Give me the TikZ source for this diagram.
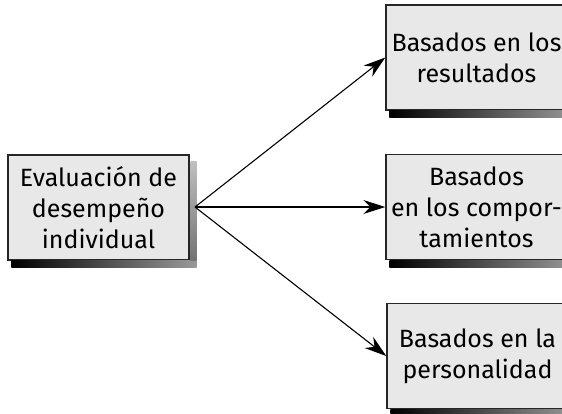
\documentclass[tikz,border=0pt]{standalone}
\usepackage{fontspec}
\setmainfont{Fira Sans}
\usetikzlibrary{arrows.meta}
\begin{document}
\begin{tikzpicture}[x=1pt,y=-1pt,
  box/.style={draw=black!85,line width=1.4pt,fill=black!9,minimum width=181pt,minimum height=105pt,
    inner sep=0pt,align=center,font=\fontsize{25}{31}\selectfont},
  arr/.style={-{Stealth[length=22pt,width=14pt]},line width=1.1pt}]
\useasboundingbox (0,0) rectangle (562,413);
\fill[white] (0,0) rectangle (562,413);
\node[box] (L) at (98.5,207.5) {Evaluación de\\desempeño\\individual};
\node[box] (T) at (476.5,57.5) {Basados en los\\resultados};
\node[box] (M) at (476.5,207) {Basados\\en los compor-\\tamientos};
\node[box] (B) at (477.5,356) {Basados en la\\personalidad};
\foreach \n in {L,T,M,B}{
  \shade[left color=black,right color=black!40] ([xshift=4pt]\n.south west) rectangle ([xshift=7pt,yshift=-7pt]\n.south east);
  \shade[top color=black!25,bottom color=black!55] ([xshift=1pt,yshift=-7pt]\n.north east) rectangle ([xshift=7pt]\n.south east);
}
\coordinate (o) at (195,207);
\draw[arr] (o) -- (T.west);
\draw[arr] (o) -- (M.west);
\draw[arr] (o) -- (B.west);
\end{tikzpicture}
\end{document}
